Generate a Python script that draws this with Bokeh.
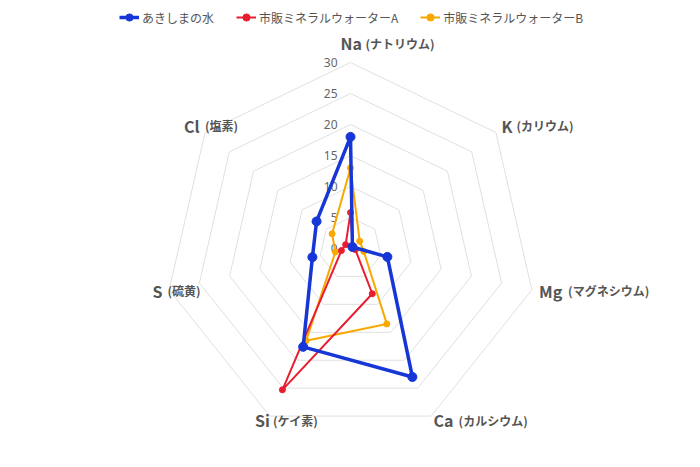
import math
from bokeh.plotting import figure
from bokeh.models import Range1d, Legend, LegendItem
from bokeh.embed import file_html
from bokeh.resources import INLINE
from bokeh.core.properties import value

# ---------------- data ----------------
categories = ["Na", "K", "Mg", "Ca", "Si", "S", "Cl"]
category_jp = ["(ナトリウム)", "(カリウム)", "(マグネシウム)", "(カルシウム)", "(ケイ素)", "(硫黄)", "(塩素)"]
series_names = ["あきしまの水", "市販ミネラルウォーターA", "市販ミネラルウォーターB"]
akishima = [18.0, 0.4, 6.1, 23.0, 17.6, 6.3, 7.0]
water_a = [5.8, 0.5, 0.8, 8.1, 25.3, 1.5, 1.0]
water_b = [13.0, 1.9, 2.2, 13.5, 16.5, 2.5, 3.8]
tick_values = [0, 5, 10, 15, 20, 25, 30]
tick_labels = ["0", "5", "10", "15", "20", "25", "30"]

# ---------------- layout / style ----------------
W, H = 684, 451
CX, CY = 350, 248
RMAX = 186
VMAX = 30
LABEL_PAD = 9
sym_widths = [20, 10, 24, 20, 13, 10, 16]
colors = ["#1636d6", "#e81e30", "#f9a800"]
line_widths = [3.5, 2, 2]
marker_sizes = [9, 6, 6]
FONT = "Noto Sans CJK JP"

n = len(categories)
angles = [2 * math.pi * i / n for i in range(n)]


def to_xy(vals, closed=True):
    k = RMAX / VMAX
    xs = [CX + v * k * math.sin(a) for v, a in zip(vals, angles)]
    ys = [CY - v * k * math.cos(a) for v, a in zip(vals, angles)]
    if closed:
        xs = xs + xs[:1]
        ys = ys + ys[:1]
    return xs, ys


p = figure(width=W, height=H, x_range=Range1d(0, W), y_range=Range1d(H, 0),
           output_backend="svg", toolbar_location=None, min_border=0,
           x_axis_location=None, y_axis_location=None)
p.grid.visible = False
p.outline_line_color = None
p.background_fill_color = "white"
p.border_fill_color = "white"

# grid polygons
gx, gy = [], []
for tv in tick_values[1:]:
    xs, ys = to_xy([tv] * n)
    gx.append(xs)
    gy.append(ys)
p.multi_line(gx, gy, line_color="#e0e0e0", line_width=1)

# tick labels
p.text(x=[CX - 13] * len(tick_values), y=[CY - v * RMAX / VMAX for v in tick_values],
       text=tick_labels, text_align="right", text_baseline="middle",
       text_font=value("Noto Sans"), text_font_size="12px", text_color="#666666")

# point labels
sym_x, sym_y, par_x = [], [], []
for i, a in enumerate(angles):
    r = RMAX + LABEL_PAD
    ax = CX + r * math.sin(a)
    ay = CY - r * math.cos(a)
    w = sym_widths[i]
    s = math.sin(a)
    if abs(s) < 0.01:
        left = ax - w / 2
        vc = ay - 9
    elif s > 0:
        left = ax - 1.5
        vc = ay
    else:
        left = ax - w + 2
        vc = ay
    if math.cos(a) < -0.8:
        vc -= 2.5
    sym_x.append(left)
    sym_y.append(vc - 1.2)
    par_x.append(left + w + 5)

p.text(x=sym_x, y=sym_y, text=categories, text_align="left", text_baseline="alphabetic",
       text_font=value(FONT), text_font_size="16px", text_font_style="bold", text_color="#555555")
p.text(x=par_x, y=sym_y, text=category_jp, text_align="left", text_baseline="alphabetic",
       text_font=value(FONT), text_font_size="12px", text_font_style="bold", text_color="#555555")

# series (drawn last-first so the first series is on top)
series = [akishima, water_a, water_b]
renderers = {}
for idx in [2, 1, 0]:
    xs, ys = to_xy(series[idx])
    lr = p.line(xs, ys, line_color=colors[idx], line_width=line_widths[idx], line_join="round")
    px, py = to_xy(series[idx], closed=False)
    sr = p.scatter(px, py, size=marker_sizes[idx], fill_color=colors[idx], line_color=colors[idx])
    renderers[idx] = [lr, sr]

items = [LegendItem(label=series_names[i], renderers=renderers[i]) for i in range(3)]
legend = Legend(items=items, orientation="horizontal", location=(119, H - 8 - 18),
                margin=0, padding=0, spacing=22, label_standoff=3,
                glyph_width=20, glyph_height=18,
                label_text_font=FONT, label_text_font_size="12px", label_text_color="#555555",
                background_fill_alpha=0, border_line_alpha=0)
p.add_layout(legend, "center")

open("out.html", "w").write(file_html(p, INLINE))
